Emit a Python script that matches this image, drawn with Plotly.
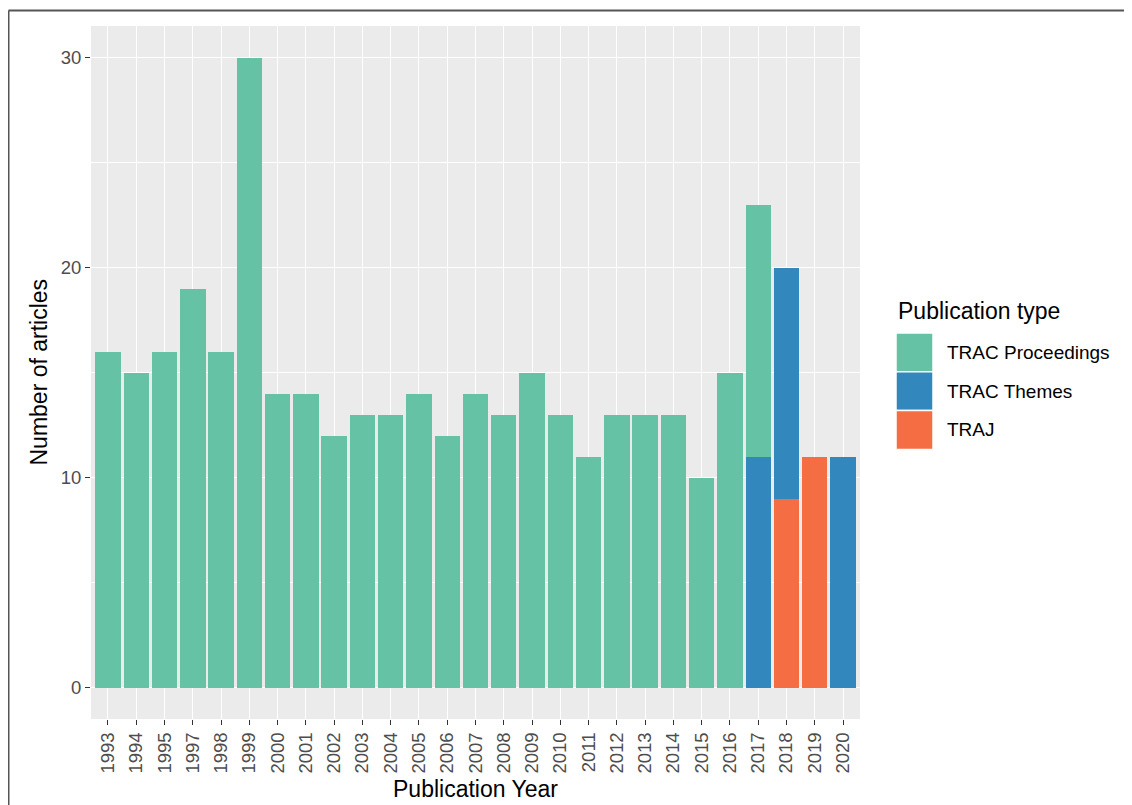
import plotly.graph_objects as go

# ---- data ----
years = ["1993", "1994", "1995", "1997", "1998", "1999", "2000", "2001", "2002",
         "2003", "2004", "2005", "2006", "2007", "2008", "2009", "2010", "2011",
         "2012", "2013", "2014", "2015", "2016", "2017", "2018", "2019", "2020"]
trac_proceedings = [16, 15, 16, 19, 16, 30, 14, 14, 12, 13, 13, 14, 12, 14, 13, 15,
                    13, 11, 13, 13, 13, 10, 15, 12, None, None, None]
trac_themes = [None] * 23 + [11, 11, None, 11]
traj = [None] * 23 + [None, 9, 11, None]

series_names = ["TRAC Proceedings", "TRAC Themes", "TRAJ"]
series_values = [trac_proceedings, trac_themes, traj]
series_colors = ["#66C2A5", "#3288BD", "#F46D43"]

# ---- layout geometry (screen pixels; page body has an 8px margin) ----
OFF = 8
W, H = 1132 - OFF, 805 - OFF
L, R, T, B = 91, 860, 26, 719
PW, PH = R - L, B - T


def px(x):
    return (x - L) / PW


def py(y):
    return 1 - (y - T) / PH


FONT = "Liberation Sans, Arial, sans-serif"

fig = go.Figure()
# stack bottom-to-top: TRAJ, TRAC Themes, TRAC Proceedings
for name, vals, col in reversed(list(zip(series_names, series_values, series_colors))):
    fig.add_trace(go.Bar(
        x=years, y=vals, name=name, width=0.9,
        marker=dict(color=col, line=dict(width=0)),
        showlegend=False,
    ))

fig.update_layout(
    width=W, height=H,
    barmode="stack",
    paper_bgcolor="white",
    plot_bgcolor="#EBEBEB",
    margin=dict(l=L - OFF, r=1132 - R, t=T - OFF, b=805 - B, pad=0),
    font=dict(family=FONT),
    showlegend=False,
)

fig.update_xaxes(
    type="category", categoryorder="array", categoryarray=years,
    range=[-0.6, len(years) - 0.4],
    showgrid=True, gridcolor="white", gridwidth=1.4,
    ticks="outside", ticklen=5, tickcolor="#333333", tickwidth=1.4,
    tickangle=-90, tickfont=dict(size=18.5, color="#4D4D4D", family=FONT),
    showline=False, zeroline=False,
)
fig.update_yaxes(
    range=[-1.5, 31.5],
    tickvals=[0, 10, 20, 30],
    showgrid=True, gridcolor="white", gridwidth=1.4,
    minor=dict(tickvals=[5, 15, 25], showgrid=True, gridcolor="white", gridwidth=0.7, ticks=""),
    ticks="outside", ticklen=5, tickcolor="#333333", tickwidth=1.4,
    tickfont=dict(size=18.5, color="#4D4D4D", family=FONT),
    showline=False, zeroline=False,
)

annotations = [
    dict(text="Publication Year", x=px((L + R) / 2), y=py(789), xref="paper", yref="paper",
         showarrow=False, xanchor="center", yanchor="middle",
         font=dict(size=23, color="black", family=FONT)),
    dict(text="Number of articles", x=px(38), y=py((T + B) / 2), xref="paper", yref="paper",
         showarrow=False, xanchor="center", yanchor="middle", textangle=-90,
         font=dict(size=23, color="black", family=FONT)),
    dict(text="Publication type", x=px(896), y=py(311), xref="paper", yref="paper",
         showarrow=False, xanchor="left", yanchor="middle",
         font=dict(size=23, color="black", family=FONT)),
]

shapes = []
key_top = 333
key_step = 38.8
for i, (name, col) in enumerate(zip(series_names, series_colors)):
    y0 = key_top + i * key_step
    shapes.append(dict(type="rect", xref="paper", yref="paper",
                       x0=px(896), x1=px(933), y0=py(y0), y1=py(y0 + key_step),
                       fillcolor=col, line=dict(color="white", width=1.5), layer="above"))
    annotations.append(dict(text=name, x=px(945), y=py(y0 + key_step / 2), xref="paper",
                            yref="paper", showarrow=False, xanchor="left", yanchor="middle",
                            font=dict(size=19, color="black", family=FONT)))

# outer frame lines (left and top edges of the image border)
shapes.append(dict(type="line", xref="paper", yref="paper",
                   x0=px(8.5), x1=px(8.5), y0=py(10.5), y1=py(820),
                   line=dict(color="#555555", width=2)))
shapes.append(dict(type="line", xref="paper", yref="paper",
                   x0=px(8.5), x1=px(1150), y0=py(10.5), y1=py(10.5),
                   line=dict(color="#555555", width=2)))

fig.update_layout(annotations=annotations, shapes=shapes)

fig.write_html("out.html")
